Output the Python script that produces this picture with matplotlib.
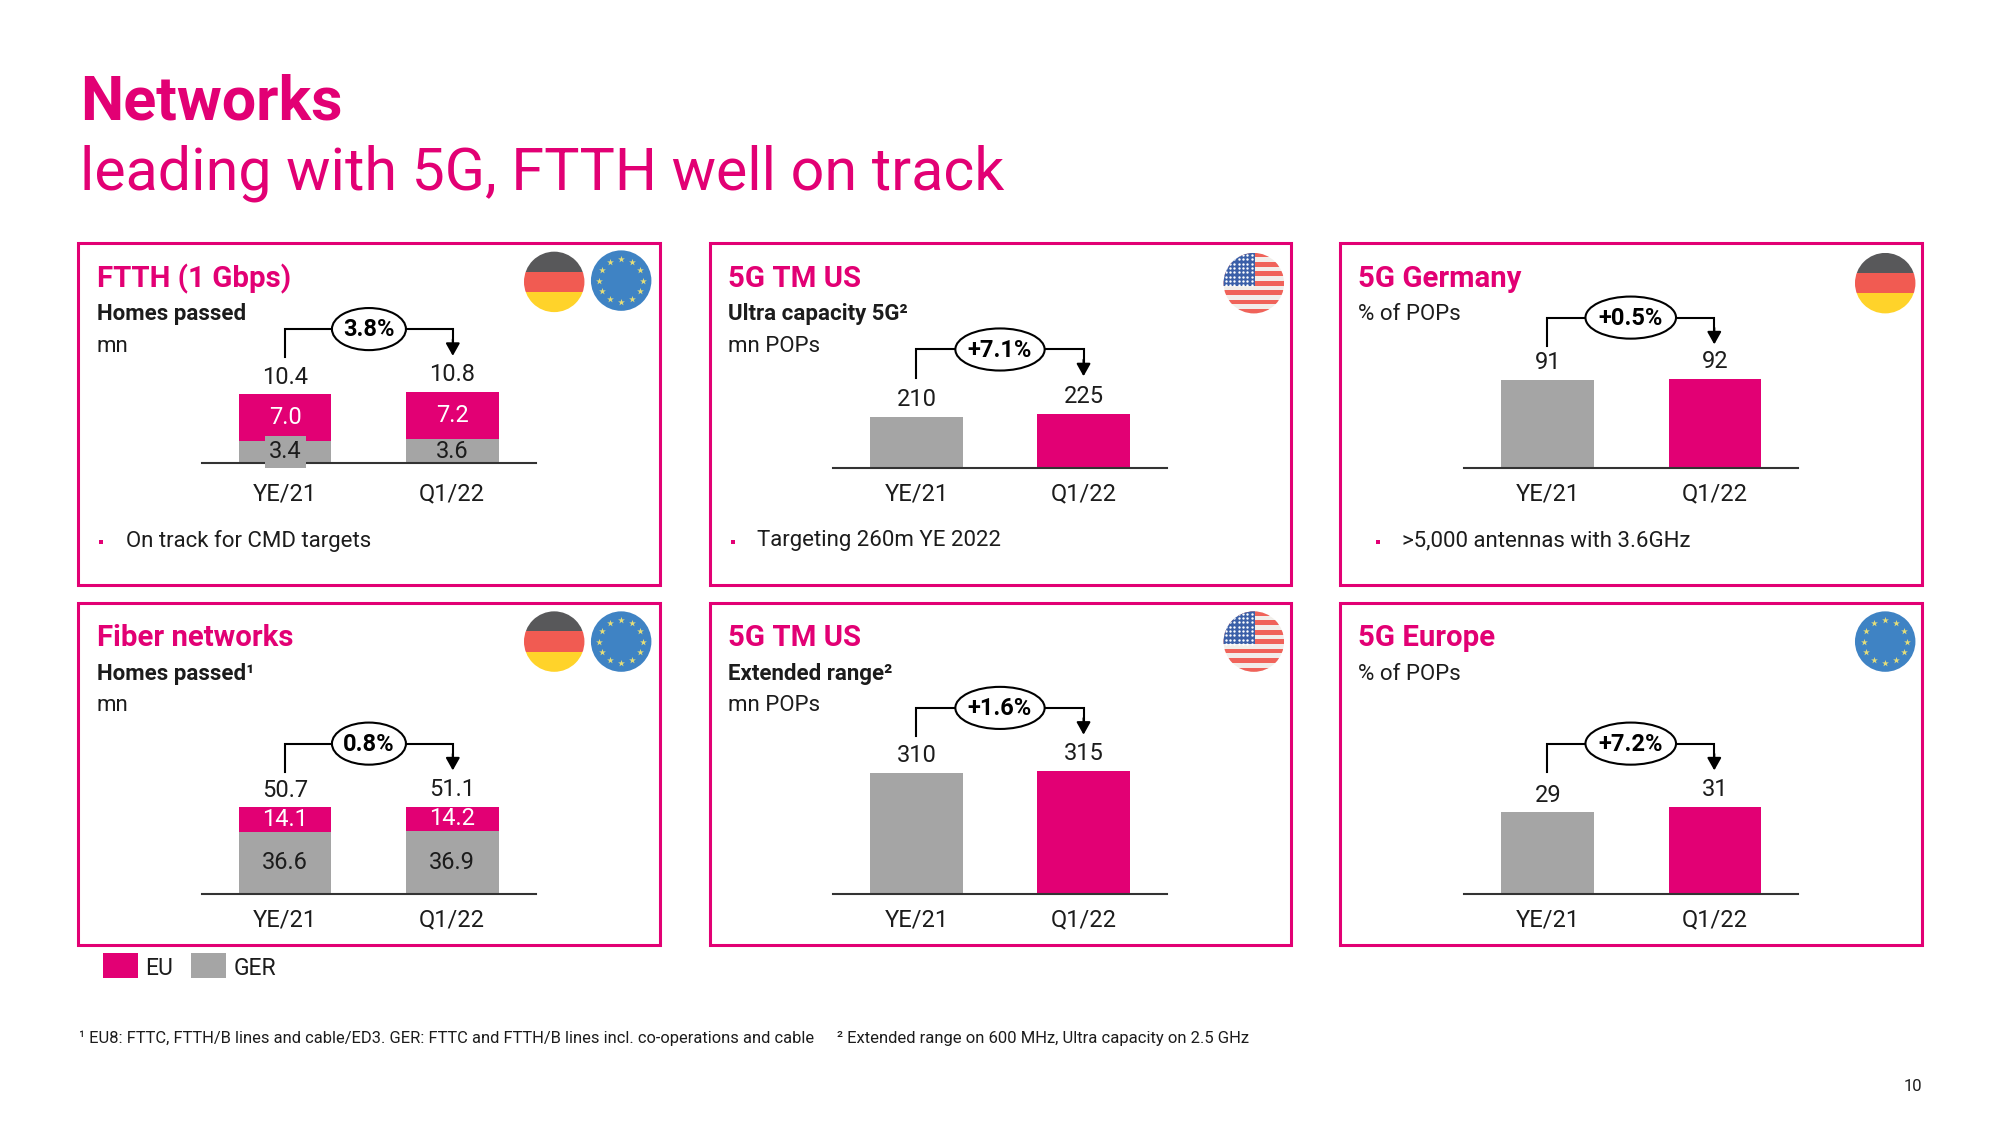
import matplotlib
matplotlib.use('Agg')
import matplotlib.pyplot as plt
from matplotlib.patches import Circle, Ellipse, Rectangle
import numpy as np

plt.rcParams['font.family'] = ['Roboto', 'DejaVu Sans']

MAGENTA = '#E20074'
GREY = '#A5A5A5'
DARK = '#1C1C1C'
BODY = 16
NUM = 17

categories = ['YE/21', 'Q1/22']

ftth_eu = [7.0, 7.2]
ftth_ger = [3.4, 3.6]
ftth_total = [10.4, 10.8]
fiber_eu = [14.1, 14.2]
fiber_ger = [36.6, 36.9]
fiber_total = [50.7, 51.1]
uc_pops = [210, 225]
er_pops = [310, 315]
ger_pops = [91, 92]
eur_pops = [29, 31]

W, H = 1568, 882  # layout units, the figure itself is 2000x1125

fig = plt.figure(figsize=(20, 11.25), dpi=100)
bg = fig.add_axes([0, 0, 1, 1])
bg.set_xlim(0, W)
bg.set_ylim(H, 0)
bg.axis('off')

bg.text(63, 80, 'Networks', color=MAGENTA, fontsize=44, fontweight='bold', va='center')
bg.text(63, 136, 'leading with 5G, FTTH well on track', color=MAGENTA, fontsize=42.6, va='center')


def flag_germany(cx, cy):
    c = Circle((cx, cy), 23.7, fc='none', ec='none')
    bg.add_patch(c)
    for i, col in enumerate(['#58585A', '#F15B52', '#FFD32A']):
        r = Rectangle((cx - 24, cy - 24 + i * 16), 48, 16, fc=col, ec='none')
        bg.add_patch(r)
        r.set_clip_path(c)


def flag_eu(cx, cy):
    bg.add_patch(Circle((cx, cy), 23.7, fc='#3F83C4', ec='none'))
    ang = np.linspace(0, 2 * np.pi, 12, endpoint=False)
    bg.scatter(cx + 17 * np.cos(ang), cy + 17 * np.sin(ang), marker='*', s=26,
               color='#E6DE78', linewidths=0, zorder=3)


def flag_us(cx, cy):
    c = Circle((cx, cy), 23.7, fc='#F2EEEA', ec='none')
    bg.add_patch(c)
    for i in range(0, 13, 2):
        r = Rectangle((cx - 24, cy - 24 + i * 3.7), 48, 3.7, fc='#F0635A', ec='none')
        bg.add_patch(r)
        r.set_clip_path(c)
    r = Rectangle((cx - 24, cy - 24), 25, 26, fc='#3B5FA8', ec='none', zorder=2)
    bg.add_patch(r)
    r.set_clip_path(c)
    xs, ys = np.meshgrid(np.arange(cx - 22, cx, 3.4), np.arange(cy - 22, cy + 2, 3.4))
    pts = bg.scatter(xs.ravel(), ys.ravel(), s=3, color='white', linewidths=0, zorder=3)
    pts.set_clip_path(c)


def panel(left, top, title, sub=None, unit=None, bullet=None, indent=17):
    bg.add_patch(Rectangle((left + 0.5, top), 456, 268, fc='none', ec=MAGENTA, lw=2.2))
    bg.text(left + 15, top + 28, title, color=MAGENTA, fontsize=21.2, fontweight='bold', va='center')
    if sub is not None:
        bg.text(left + 15, top + 56, sub, color=DARK, fontsize=BODY, fontweight='bold', va='center')
    if unit is not None:
        bg.text(left + 15, top + (81 if sub is not None else 56), unit, color=DARK, fontsize=BODY, va='center')
    if bullet is not None:
        bg.add_patch(Rectangle((left + indent, top + 233), 3, 3, fc=MAGENTA, ec='none'))
        bg.text(left + indent + 20.5, top + 233.5, bullet, color=DARK, fontsize=BODY, va='center')


def bubble(x0, x1, y, text, w=58):
    xm = (x0 + x1) / 2
    bg.plot([x0, x0, x1, x1], [y + 22, y, y, y + 10], color='black', lw=1.5, solid_joinstyle='miter')
    bg.annotate('', xy=(x1, y + 21), xytext=(x1, y + 8),
                arrowprops=dict(arrowstyle='-|>,head_width=0.42,head_length=0.75', color='black', lw=1.5,
                                shrinkA=0, shrinkB=0))
    bg.add_patch(Ellipse((xm, y), w, 33, fc='white', ec='black', lw=1.5, zorder=3))
    bg.text(xm, y + 0.5, text, fontsize=NUM, fontweight='bold', color='black', ha='center', va='center', zorder=4)


def chart(x_left, base, px_per_unit, stacks, colors, text_colors, totals, pad):
    # axes runs along the baseline, bars sit at x=0 and x=1
    ax_h = 120
    ax = fig.add_axes([x_left / W, 1 - base / H, 262 / W, ax_h / H])
    ax.patch.set_alpha(0)
    ax.set_xlim(-0.5, 1.5)
    ax.set_ylim(0, ax_h / px_per_unit)
    for s in ['top', 'left', 'right']:
        ax.spines[s].set_visible(False)
    ax.spines['bottom'].set_color('#333333')
    ax.spines['bottom'].set_linewidth(1.5)
    ax.set_yticks([])
    ax.set_xticks([0, 1])
    ax.set_xticklabels(categories, fontsize=NUM, color=DARK)
    ax.tick_params(axis='x', length=0, pad=pad)
    bottom = np.zeros(2)
    conts = []
    for vals, col, tc in zip(stacks, colors, text_colors):
        b = ax.bar([0, 1], vals, width=0.555, bottom=bottom, color=col, linewidth=0)
        bottom = bottom + np.array(vals)
        if tc is not None:
            conts.append(ax.bar_label(b, fmt='%.1f', label_type='center', color=tc, fontsize=NUM))
    for i, t in enumerate(totals):
        ax.annotate(str(t), xy=(i, bottom[i]), xytext=(0, 12.5), textcoords='offset points',
                    ha='center', va='center', fontsize=NUM, color=DARK)
    return ax, conts


# top row
panel(61, 190.5, 'FTTH (1 Gbps)', 'Homes passed', 'mn', 'On track for CMD targets')
panel(556, 190.5, '5G TM US', 'Ultra capacity 5G²', 'mn POPs', 'Targeting 260m YE 2022')
panel(1050, 190.5, '5G Germany', None, '% of POPs', '>5,000 antennas with 3.6GHz', indent=29)
# bottom row
panel(61, 472.5, 'Fiber networks', 'Homes passed¹', 'mn')
panel(556, 472.5, '5G TM US', 'Extended range²', 'mn POPs')
panel(1050, 472.5, '5G Europe', None, '% of POPs')

flag_germany(434.5, 221)
flag_eu(487, 220)
flag_us(983, 222)
flag_germany(1478, 222)
flag_germany(434.5, 503)
flag_eu(487, 503)
flag_us(983, 503)
flag_eu(1478, 503)

ax1, labs1 = chart(158, 363, 5.17, [ftth_ger, ftth_eu], [GREY, MAGENTA], [DARK, 'white'], ftth_total, 14)
labs1[0][0].set_bbox(dict(fc=GREY, ec='none', pad=3))
chart(158, 701, 1.34, [fiber_ger, fiber_eu], [GREY, MAGENTA], [DARK, 'white'], fiber_total, 10)

for x_left, base, ppu, vals, in [(653, 367, 0.19, uc_pops), (653, 701, 0.306, er_pops),
                                (1148, 367, 0.758, ger_pops), (1148, 701, 2.21, eur_pops)]:
    ax, _ = chart(x_left, base, ppu, [vals], [GREY], [None], vals, 10)
    ax.patches[1].set_facecolor(MAGENTA)

bubble(223.5, 355, 258, '3.8%')
bubble(718.5, 849.5, 274, '+7.1%', 70)
bubble(1213, 1344, 249, '+0.5%', 71)
bubble(223.5, 355, 583, '0.8%')
bubble(718.5, 849.5, 555, '+1.6%', 70)
bubble(1213, 1344, 583, '+7.2%', 71)

# legend
bg.add_patch(Rectangle((81, 747), 27, 20, fc=MAGENTA, ec='none'))
bg.text(114, 759, 'EU', fontsize=16.5, color=DARK, va='center')
bg.add_patch(Rectangle((150, 747), 27, 20, fc=GREY, ec='none'))
bg.text(183, 759, 'GER', fontsize=16.5, color=DARK, va='center')

# footnotes
bg.text(62, 814, '¹ EU8: FTTC, FTTH/B lines and cable/ED3. GER: FTTC and FTTH/B lines incl. co-operations and cable',
        fontsize=11.9, color=DARK, va='center')
bg.text(656, 814, '² Extended range on 600 MHz, Ultra capacity on 2.5 GHz', fontsize=12, color=DARK, va='center')
bg.text(1507, 852, '10', fontsize=12, color=DARK, ha='right', va='center')

fig.savefig('out.png', dpi=100, facecolor='white')
